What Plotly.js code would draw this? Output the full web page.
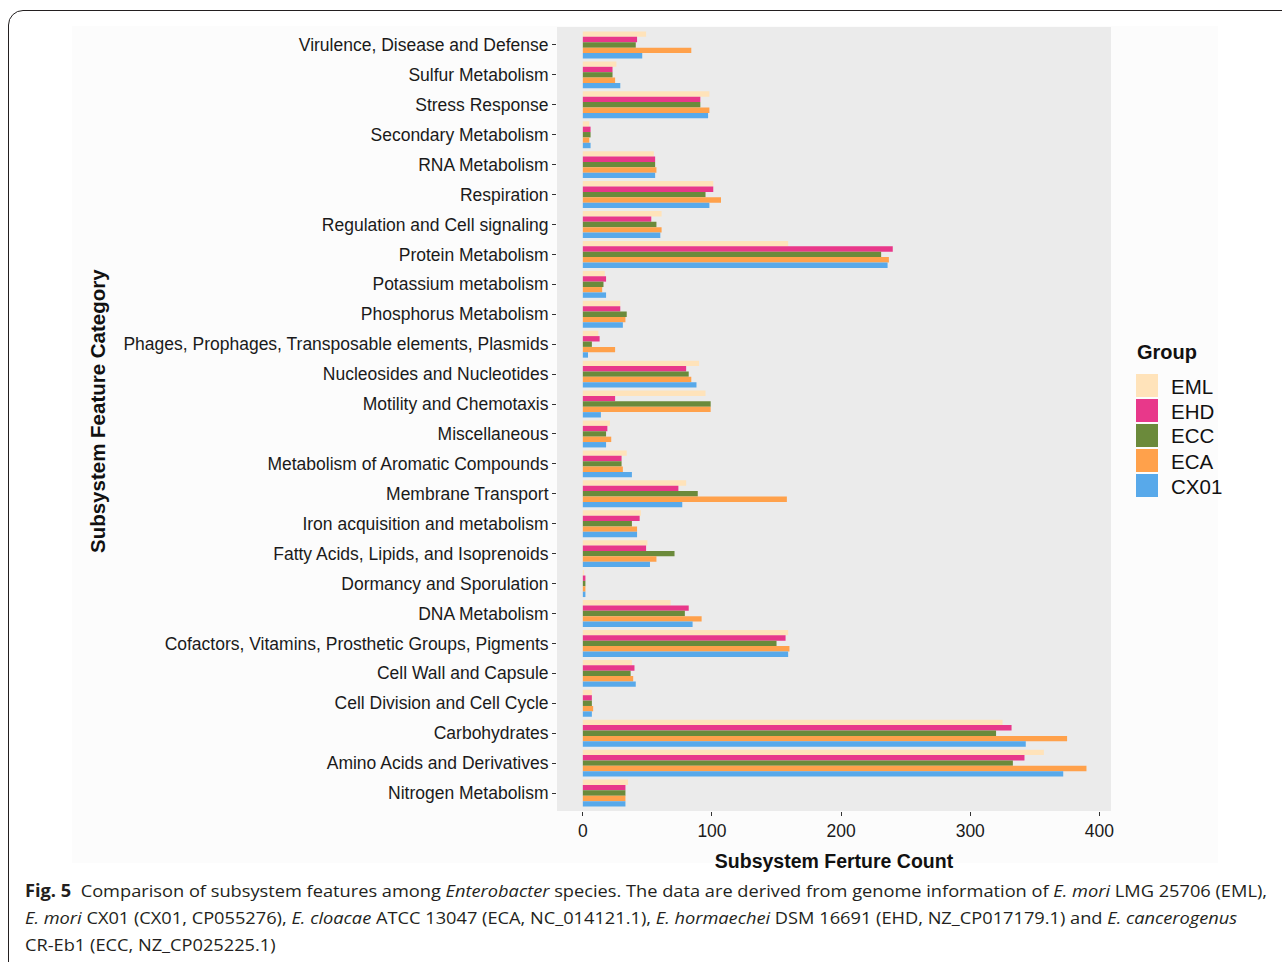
<!DOCTYPE html>
<html>
<head>
<meta charset="utf-8">
<script src="https://cdn.plot.ly/plotly-3.0.1.min.js"></script>
<style>
  html, body { margin: 0; padding: 0; background: #ffffff; width: 1282px; height: 962px; overflow: hidden; }
  #frame { position: absolute; left: 8px; top: 10px; width: 1320px; height: 1000px; border: 1px solid #231f20; border-radius: 15px; box-sizing: border-box; }
  #panel { position: absolute; left: 72px; top: 26px; width: 1146px; height: 837px; background: #fcfcfc; }
  #chart { position: absolute; left: 0; top: 0; width: 1282px; height: 962px; }
  #caption { position: absolute; left: 25px; top: 877px; font-family: "Open Sans", "Noto Sans", sans-serif; font-size: 17px; color: #231f20; line-height: 27px; }
  #caption .line { white-space: nowrap; transform-origin: 0 0; display: block; width: max-content; }
  #caption b { font-weight: 700; }
</style>
</head>
<body>
<div id="frame"></div>
<div id="panel"></div>
<div id="chart"></div>
<div id="caption">
  <span class="line"><b>Fig. 5</b>&nbsp;&nbsp;Comparison of subsystem features among <i>Enterobacter</i> species. The data are derived from genome information of <i>E. mori</i> LMG 25706 (EML),</span>
  <span class="line"><i>E. mori</i> CX01 (CX01, CP055276), <i>E. cloacae</i> ATCC 13047 (ECA, NC_014121.1), <i>E. hormaechei</i> DSM 16691 (EHD, NZ_CP017179.1) and <i>E. cancerogenus</i></span>
  <span class="line">CR-Eb1 (ECC, NZ_CP025225.1)</span>
</div>
<script>
// Subsystem categories, listed top to bottom as displayed
const categories = [
  "Virulence, Disease and Defense",
  "Sulfur Metabolism",
  "Stress Response",
  "Secondary Metabolism",
  "RNA Metabolism",
  "Respiration",
  "Regulation and Cell signaling",
  "Protein Metabolism",
  "Potassium metabolism",
  "Phosphorus Metabolism",
  "Phages, Prophages, Transposable elements, Plasmids",
  "Nucleosides and Nucleotides",
  "Motility and Chemotaxis",
  "Miscellaneous",
  "Metabolism of Aromatic Compounds",
  "Membrane Transport",
  "Iron acquisition and metabolism",
  "Fatty Acids, Lipids, and Isoprenoids",
  "Dormancy and Sporulation",
  "DNA Metabolism",
  "Cofactors, Vitamins, Prosthetic Groups, Pigments",
  "Cell Wall and Capsule",
  "Cell Division and Cell Cycle",
  "Carbohydrates",
  "Amino Acids and Derivatives",
  "Nitrogen Metabolism"
];

// Feature counts per strain, same order as categories
const eml  = [49, 26, 98, 5, 55, 101, 61, 159, 17, 29, 12, 90, 95, 21, 34, 80, 45, 50, 1, 68, 159, 38, 7, 325, 357, 35];
const ehd  = [42, 23, 91, 6, 56, 101, 53, 240, 18, 29, 13, 80, 25, 19, 30, 74, 44, 49, 2, 82, 157, 40, 7, 332, 342, 33];
const ecc  = [41, 23, 91, 6, 56, 95, 57, 231, 16, 34, 7, 82, 99, 18, 30, 89, 38, 71, 2, 79, 150, 37, 7, 320, 333, 33];
const eca  = [84, 25, 98, 5, 57, 107, 61, 237, 15, 33, 25, 84, 99, 22, 31, 158, 42, 57, 2, 92, 160, 39, 8, 375, 390, 33];
const cx01 = [46, 29, 97, 6, 56, 98, 60, 236, 18, 31, 4, 88, 14, 18, 38, 77, 42, 52, 2, 85, 159, 41, 7, 343, 372, 33];

const groupNames = ["EML", "EHD", "ECC", "ECA", "CX01"];
const groupValues = [eml, ehd, ecc, eca, cx01];
const groupColors = ["#FFE3BA", "#E8388A", "#6B8A3B", "#FFA14B", "#58A9EA"];

const xTickVals = [0, 100, 200, 300, 400];

// plot area in page pixels
const W = 1282, H = 962;
const PL = 557, PR = 1111, PT = 27, PB = 811;
const px = v => (v - PL) / (PR - PL);
const py = v => (PB - v) / (PB - PT);

const traces = groupNames.map((name, i) => ({
  type: "bar",
  orientation: "h",
  name: name,
  x: groupValues[i],
  y: categories,
  marker: { color: groupColors[i], line: { width: 0 } },
  hoverinfo: "x+name",
  showlegend: false
}));

const font = "Liberation Sans, Arial, Helvetica, sans-serif";

// legend drawn as swatches + labels beside the panel
const shapes = [];
const annotations = [];
annotations.push({
  xref: "paper", yref: "paper", x: px(1135), y: py(352),
  xanchor: "left", yanchor: "middle", showarrow: false,
  text: "<b>Group</b>", font: { family: font, size: 20, color: "#111111" }
});
groupNames.forEach((name, i) => {
  const cy = 386 + i * 25;
  shapes.push({
    type: "rect", xref: "paper", yref: "paper",
    x0: px(1136), x1: px(1158), y0: py(cy - 12), y1: py(cy + 11),
    fillcolor: groupColors[i], line: { width: 0 }
  });
  annotations.push({
    xref: "paper", yref: "paper", x: px(1169), y: py(cy),
    xanchor: "left", yanchor: "middle", showarrow: false,
    text: name, font: { family: font, size: 20.5, color: "#111111" }
  });
});

// vertical axis title
annotations.push({
  xref: "paper", yref: "paper", x: px(97), y: py(411),
  xanchor: "center", yanchor: "middle", showarrow: false, textangle: -90,
  text: "<b>Subsystem Feature Category</b>", font: { family: font, size: 20.5, color: "#111111" }
});

const layout = {
  width: W, height: H,
  margin: { l: PL, r: W - PR, t: PT, b: H - PB, pad: 0 },
  paper_bgcolor: "rgba(0,0,0,0)",
  plot_bgcolor: "#EBEBEB",
  barmode: "group",
  bargap: 0.1,
  bargroupgap: 0,
  showlegend: false,
  font: { family: font, color: "#1a1a1a" },
  xaxis: {
    range: [-20, 409],
    tickvals: xTickVals,
    ticktext: xTickVals.map(String),
    ticks: "outside", ticklen: 4, tickwidth: 1, tickcolor: "#333333",
    showgrid: false, zeroline: false, showline: false,
    tickfont: { family: font, size: 17.5, color: "#1a1a1a" },
    title: { text: "<b>Subsystem Ferture Count</b>", font: { family: font, size: 19.5, color: "#111111" }, standoff: 14 }
  },
  yaxis: {
    type: "category",
    categoryorder: "array",
    categoryarray: categories,
    range: [categories.length - 0.4, -0.6],
    ticks: "outside", ticklen: 4, tickwidth: 1, tickcolor: "#333333",
    showgrid: false, zeroline: false, showline: false,
    tickfont: { family: font, size: 17.5, color: "#1a1a1a" }
  },
  shapes: shapes,
  annotations: annotations
};

Plotly.newPlot("chart", traces, layout, { displayModeBar: false, staticPlot: true }).then(() => {
  // stretch caption lines to the printed column width
  const lines = document.querySelectorAll("#caption .line");
  const w = lines[0].getBoundingClientRect().width;
  const s = 1242 / w;
  lines.forEach(l => { l.style.transform = "scaleX(" + s + ")"; });
});
</script>
</body>
</html>
